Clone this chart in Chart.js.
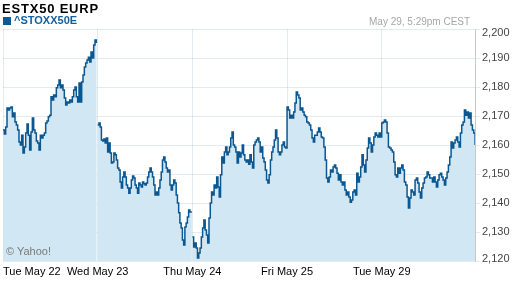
<!DOCTYPE html>
<html>
<head>
<meta charset="utf-8">
<script src="https://cdn.jsdelivr.net/npm/chart.js@4"></script>
<style>
  html, body { margin: 0; padding: 0; background: #fff; }
  #wrap { position: relative; width: 512px; height: 288px; overflow: hidden; font-family: "Liberation Sans", Arial, sans-serif; }
  #c { position: absolute; left: 0; top: 0; }
  .t { position: absolute; white-space: nowrap; }
  #title { left: 2px; top: 1px; font-size: 13px; font-weight: bold; color: #000; letter-spacing: 0.8px; }
  #sym { left: 14px; top: 14px; font-size: 11px; font-weight: bold; color: #15609c; }
  #sq { position: absolute; left: 3px; top: 17px; width: 8px; height: 8px; background: #0d5a94; }
  #date { left: 369px; top: 17px; font-size: 10px; line-height: 10px; color: #a6a6a6; }
  #yahoo { left: 6px; top: 245px; font-size: 11px; color: #7a7a7a; }
</style>
</head>
<body>
<div id="wrap">
  <canvas id="c" width="512" height="288"></canvas>
  <div id="title" class="t">ESTX50 EURP</div>
  <div id="sq"></div>
  <div id="sym" class="t">^STOXX50E</div>
  <div id="date" class="t">May 29, 5:29pm CEST</div>
  <div id="yahoo" class="t">© Yahoo!</div>
</div>
<script>
// ---- data ----
const dayLabels = ['Tue May 22', 'Wed May 23', 'Thu May 24', 'Fri May 25', 'Tue May 29'];
// sessions whose opening is not joined to the previous close by the line
const unjoinedOpens = [1, 2];

const day1 = [2165.2,2163.8,2166.2,2172.8,2172.1,2172.8,2173.1,2169.7,2171.0,2167.9,2166.9,2165.2,2161.0,2160.0,2163.4,2157.2,2159.3,2164.1,2167.2,2163.4,2158.3,2164.5,2169.3,2165.2,2164.1,2161.4,2160.7,2158.3,2163.4,2162.4,2163.4,2164.1,2167.6,2168.3,2169.7,2170.3,2176.6,2175.5,2177.2,2176.6,2179.7,2180.7,2182.4,2179.7,2180.7,2179.0,2176.2,2173.8,2174.8,2174.5,2175.5,2174.8,2176.6,2179.0,2180.0,2176.6,2174.8,2181.4,2174.8,2181.7,2184.1,2186.9,2188.3,2189.3,2190.3,2188.6,2192.1,2190.0,2194.5,2196.2,2195.2];

const day2 = [2166.9,2167.6,2166.2,2161.7,2161.4,2162.1,2160.7,2162.4,2157.6,2160.7,2157.2,2153.8,2154.1,2157.2,2156.6,2154.8,2152.1,2151.4,2147.2,2145.2,2149.0,2150.7,2149.0,2146.2,2145.2,2143.4,2145.2,2147.9,2149.3,2148.6,2146.2,2145.2,2143.4,2146.9,2146.2,2145.5,2147.2,2146.6,2146.2,2146.9,2149.0,2150.7,2152.1,2150.7,2149.0,2146.2,2142.8,2143.8,2142.8,2145.2,2147.9,2150.7,2154.8,2155.9,2154.1,2152.1,2150.7,2151.4,2146.2,2144.5,2146.2,2147.9,2146.9,2142.8,2140.0,2136.6,2133.1,2131.4,2127.2,2125.5,2131.7,2133.1,2135.2,2137.6,2136.9,2136.6];

const day3 = [2128.3,2124.8,2126.2,2124.5,2121.0,2122.8,2124.5,2128.3,2131.4,2134.1,2130.7,2129.0,2126.2,2134.8,2140.0,2143.8,2142.8,2146.2,2145.2,2149.0,2145.5,2142.1,2149.7,2155.9,2153.8,2157.6,2159.3,2156.6,2157.6,2159.3,2162.4,2164.5,2160.0,2159.3,2157.6,2153.8,2157.6,2155.9,2157.2,2160.0,2156.6,2154.8,2154.1,2154.8,2153.4,2156.6,2154.1,2152.1,2160.0,2161.0,2161.7,2162.4,2161.0,2157.6,2159.3,2155.5,2154.1,2151.4,2147.9,2146.9,2149.7,2154.8,2157.6,2159.3,2161.7,2165.2,2162.4,2157.6,2156.6,2157.6,2160.0,2161.0,2159.3,2159.0];

const day4 = [2173.1,2172.1,2169.3,2170.3,2169.3,2171.4,2174.5,2178.3,2177.2,2176.2,2172.1,2172.8,2171.4,2170.3,2169.7,2167.9,2167.6,2166.9,2165.2,2162.4,2161.0,2163.4,2163.4,2164.5,2165.9,2164.5,2162.8,2162.4,2159.3,2154.8,2148.6,2147.2,2149.0,2151.4,2150.7,2152.4,2153.1,2152.1,2150.3,2147.9,2149.7,2147.2,2146.2,2147.2,2144.5,2142.8,2143.8,2142.1,2140.3,2141.0,2143.8,2144.5,2142.8,2150.3,2147.2,2149.0,2152.4,2156.6,2153.1,2150.7,2154.8,2159.0,2162.4,2160.7,2157.6,2160.0,2162.8,2164.1,2163.4,2162.8,2164.1,2162.8];

const day5 = [2167.6,2167.9,2168.6,2167.9,2164.1,2159.3,2159.0,2158.3,2157.6,2154.1,2149.7,2149.0,2152.1,2150.3,2152.1,2153.1,2151.4,2147.2,2146.2,2142.1,2138.3,2141.7,2144.5,2143.8,2142.8,2147.9,2148.6,2146.9,2143.8,2141.7,2145.2,2146.9,2148.6,2149.0,2150.7,2149.7,2148.6,2148.6,2147.2,2149.0,2147.2,2145.5,2147.9,2149.7,2150.3,2149.0,2147.9,2146.2,2148.6,2150.7,2153.1,2155.9,2161.0,2159.0,2160.7,2161.7,2162.8,2161.0,2159.3,2164.1,2166.9,2167.9,2172.1,2170.3,2171.4,2169.3,2171.0,2166.9,2165.2,2164.1,2160.0];

const yMin = 2120, yMax = 2200, yStep = 10;

// ---- build dataset: each day's samples spread through its session ----
const days = [day1, day2, day3, day4, day5];
const points = [];
days.forEach((vals, d) => vals.forEach((v, i) => points.push({ x: d + i / vals.length, y: v })));

const FONT = '"Liberation Sans", Arial, sans-serif';
const gridColor = 'rgba(90,130,160,0.16)';

const labelPlugin = {
  id: 'axisLabels',
  afterDraw(chart) {
    const ctx = chart.ctx, sx = chart.scales.x, sy = chart.scales.y, area = chart.chartArea;
    ctx.save();
    ctx.font = '11px ' + FONT;
    ctx.fillStyle = '#000';
    ctx.textBaseline = 'alphabetic';
    dayLabels.forEach((t, i) => {
      ctx.textAlign = i === 0 ? 'left' : 'center';
      ctx.fillText(t, sx.getPixelForValue(i), 275);
    });
    // y labels, kept inside the plot's vertical extent
    ctx.fillStyle = '#444';
    ctx.textAlign = 'left';
    ctx.textBaseline = 'middle';
    sy.ticks.forEach(tk => {
      let y = sy.getPixelForValue(tk.value);
      y = Math.min(Math.max(y, area.top + 4), area.bottom - 2);
      ctx.fillText(tk.value.toLocaleString('en-US'), area.right + 7, y);
    });
    ctx.restore();
  }
};

new Chart(document.getElementById('c'), {
  type: 'line',
  data: {
    datasets: [{
      data: points,
      borderColor: '#0b5791',
      borderWidth: 1.5,
      backgroundColor: 'rgb(209,231,243)',
      fill: 'start',
      pointRadius: 0,
      stepped: true,
      segment: {
        borderColor: c => {
          const a = Math.floor(c.p0.parsed.x), b = Math.floor(c.p1.parsed.x);
          return (a !== b && unjoinedOpens.includes(b)) ? 'rgba(0,0,0,0)' : undefined;
        }
      }
    }]
  },
  options: {
    responsive: false,
    animation: false,
    devicePixelRatio: 1,
    layout: { padding: { top: 29, left: 3, right: 0, bottom: 0 } },
    plugins: { legend: { display: false }, tooltip: { enabled: false } },
    scales: {
      x: {
        type: 'linear', min: 0, max: 4.985, z: 1,
        grid: { color: gridColor, drawTicks: false },
        border: { display: false },
        ticks: { display: false },
        afterBuildTicks: s => { s.ticks = dayLabels.map((_, i) => ({ value: i })); },
        afterFit: s => { s.height = 27; }
      },
      y: {
        position: 'right', min: yMin, max: yMax, z: 1,
        ticks: { stepSize: yStep, display: false },
        grid: { color: gridColor, tickLength: 5 },
        border: { color: '#c9c9c9' },
        afterFit: s => { s.width = 37; }
      }
    }
  },
  plugins: [labelPlugin]
});
</script>
</body>
</html>
